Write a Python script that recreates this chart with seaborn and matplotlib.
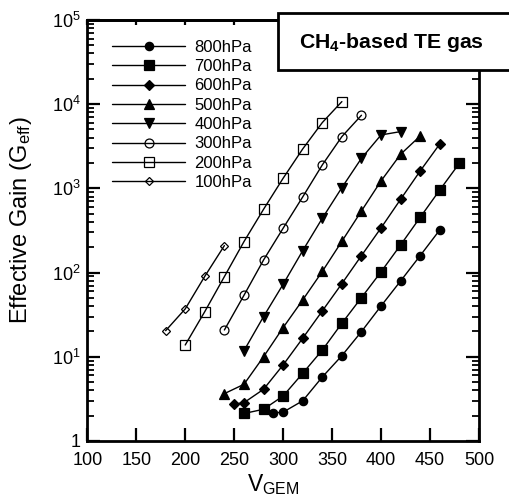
import numpy as np
import pandas as pd
import matplotlib
matplotlib.use("Agg")
import matplotlib.pyplot as plt
import seaborn as sns
from matplotlib.ticker import FixedLocator, LogLocator, FuncFormatter, NullFormatter
from matplotlib.patches import Rectangle

# ---- data ----
v_800 = [290, 300, 320, 340, 360, 380, 400, 420, 440, 460]
g_800 = [2.15, 2.2, 3.0, 5.75, 10.3, 19.9, 40.1, 79.5, 159, 321]

v_700 = [260, 280, 300, 320, 340, 360, 380, 400, 420, 440, 460, 480]
g_700 = [2.12, 2.38, 3.42, 6.36, 12.0, 25.0, 50.4, 102, 213, 453, 957, 1985]

v_600 = [250, 260, 280, 300, 320, 340, 360, 380, 400, 420, 440, 460]
g_600 = [2.74, 2.85, 4.11, 8.0, 16.6, 35.0, 73.9, 159, 339, 742, 1610, 3366]

v_500 = [240, 260, 280, 300, 320, 340, 360, 380, 400, 420, 440]
g_500 = [3.65, 4.71, 10.0, 22.2, 47.3, 103, 235, 539, 1225, 2541, 4191]

v_400 = [260, 280, 300, 320, 340, 360, 380, 400, 420]
g_400 = [11.8, 30.0, 72.6, 182, 441, 1020, 2276, 4306, 4720]

v_300 = [240, 260, 280, 300, 320, 340, 360, 380]
g_300 = [20.8, 53.7, 141, 336, 791, 1897, 4115, 7380]

v_200 = [200, 220, 240, 260, 280, 300, 320, 340, 360]
g_200 = [13.8, 34.4, 89.5, 233, 564, 1318, 2938, 6040, 10720]

v_100 = [180, 200, 220, 240]
g_100 = [20.4, 37.0, 90.3, 209]

labels = ["800hPa", "700hPa", "600hPa", "500hPa", "400hPa", "300hPa", "200hPa", "100hPa"]
x_ticks = [100, 150, 200, 250, 300, 350, 400, 450, 500]
y_ticks = [1, 10, 100, 1000, 10000, 100000]

series = [
    (v_800, g_800, "o", 6.0, True),
    (v_700, g_700, "s", 6.8, True),
    (v_600, g_600, "D", 4.6, True),
    (v_500, g_500, "^", 6.8, True),
    (v_400, g_400, "v", 6.8, True),
    (v_300, g_300, "o", 6.4, False),
    (v_200, g_200, "s", 7.2, False),
    (v_100, g_100, "D", 4.4, False),
]

sns.set_theme(style="white")
plt.rcParams["font.family"] = ["Liberation Sans", "DejaVu Sans"]
plt.rcParams["mathtext.fontset"] = "custom"
plt.rcParams["mathtext.rm"] = "Liberation Sans"
plt.rcParams["mathtext.it"] = "Liberation Sans:italic"
plt.rcParams["mathtext.bf"] = "Liberation Sans:bold"
plt.rcParams["mathtext.default"] = "regular"
for key in ["text.color", "axes.labelcolor", "xtick.color", "ytick.color",
            "axes.edgecolor", "legend.labelcolor"]:
    plt.rcParams[key] = "black"

fig = plt.figure(figsize=(5.09, 4.98), dpi=100)
ax = fig.add_axes([0.1715, 0.1145, 0.941 - 0.1715, 0.96 - 0.1145])

for (vx, gy, mk, ms, filled), lab in zip(series, labels):
    df = pd.DataFrame({"V": vx, "G": gy})
    sns.lineplot(data=df, x="V", y="G", ax=ax, color="black", linewidth=1.0,
                 marker=mk, markersize=ms, markeredgecolor="black",
                 markerfacecolor="black" if filled else "none",
                 markeredgewidth=0.9, label=lab, estimator=None, sort=False)

ax.set_yscale("log")
ax.set_xlim(100, 500)
ax.set_ylim(1, 1e5)
ax.xaxis.set_major_locator(FixedLocator(x_ticks))
ax.yaxis.set_major_locator(FixedLocator(y_ticks))
ax.yaxis.set_minor_locator(LogLocator(base=10, subs=np.arange(2, 10)))
ax.yaxis.set_minor_formatter(NullFormatter())
ax.yaxis.set_major_formatter(FuncFormatter(
    lambda v, p: "1" if abs(v - 1) < 1e-9 else "$10^{%d}$" % int(round(np.log10(v)))))
ax.xaxis.set_major_formatter(FuncFormatter(lambda v, p: "%d" % v))

for sp in ax.spines.values():
    sp.set_linewidth(2.0)
    sp.set_color("black")

ax.tick_params(axis="x", which="major", direction="in", length=9.5, width=1.6,
               bottom=True, top=False, labelsize=13, pad=8, colors="black")
ax.tick_params(axis="y", which="major", direction="in", length=9.5, width=1.6,
               left=True, right=True, labelsize=13, pad=5, colors="black")
ax.tick_params(axis="y", which="minor", direction="in", length=5, width=1.3,
               left=True, right=True, colors="black")

top = ax.secondary_xaxis("top")
top.xaxis.set_major_locator(FixedLocator(x_ticks))
top.tick_params(axis="x", direction="in", length=3.5, width=1.6, labeltop=False,
                colors="black")
top.spines["top"].set_linewidth(2.0)
top.spines["top"].set_color("black")

ax.set_xlabel("V$_{GEM}$", fontsize=16.5, color="black")
ax.set_ylabel("Effective Gain (G$_{eff}$)", fontsize=17, color="black")
ax.xaxis.set_label_coords(0.474, -0.075)
ax.yaxis.set_label_coords(-0.135, 0.525)

leg = ax.legend(loc="upper left", bbox_to_anchor=(0.063, 0.953), frameon=False,
                fontsize=12, handlelength=4.4, handletextpad=0.55,
                labelspacing=0.26, borderpad=0, borderaxespad=0,
                labelcolor="black")

# title box (extends past the right edge)
fig.add_artist(Rectangle((278 / 509, 1 - 70 / 498), 0.6, 57 / 498,
                         transform=fig.transFigure, facecolor="white",
                         edgecolor="black", lw=2.0, zorder=10, clip_on=False))
t = fig.text(299 / 509, 1 - 43 / 498, "CH$_\\mathbf{4}$-based TE gas",
             fontweight="bold", fontsize=15.3, va="center", ha="left", zorder=11,
             color="black")

fig.savefig("out.png", dpi=100)
